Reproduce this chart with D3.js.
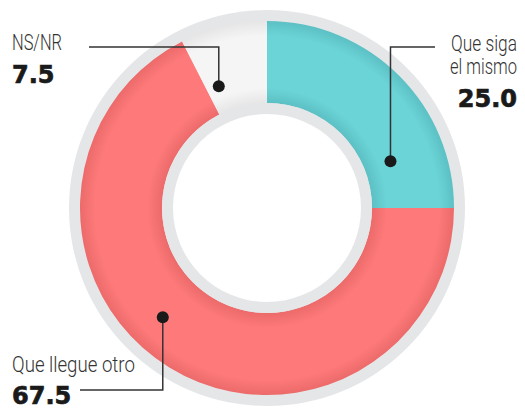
<!DOCTYPE html>
<html><head><meta charset="utf-8">
<script src="https://cdn.jsdelivr.net/npm/d3@7"></script>
<style>
html,body{margin:0;padding:0;background:#fff;}
svg{display:block;}
.lbl{font-family:"Roboto","Liberation Sans",sans-serif;font-weight:300;font-size:22px;fill:#333;}
.val{font-family:"DejaVu Sans",sans-serif;font-weight:bold;font-size:24px;fill:#1a1a1a;stroke:#1a1a1a;stroke-width:0.7px;}
</style></head>
<body>
<svg id="chart" width="525" height="408"></svg>
<script>
// Data
const categories = ["Que siga el mismo", "Que llegue otro", "NS/NR"];
const values = [25.0, 67.5, 7.5];
const labelLines = [["Que siga", "el mismo"], ["Que llegue otro"], ["NS/NR"]];
const valueLabels = ["25.0", "67.5", "7.5"];

// Styling / layout
const colors = ["#6bd4d7", "#fe7a7a", "#f5f5f5"];
const edgeColors = ["#5cc0c4", "#ec6a6a", "#e6e6e6"];
const W = 525, H = 408, cx = 267, cy = 208;
const rOuterGray = 198, rOuter = 187, rInner = 105, rInnerWhite = 94;

const svg = d3.select("#chart");
const defs = svg.append("defs");
colors.forEach((c, i) => {
  const g = defs.append("radialGradient").attr("id", "grad" + i)
    .attr("gradientUnits", "userSpaceOnUse").attr("cx", 0).attr("cy", 0).attr("r", rOuter);
  const s = rInner / rOuter;
  [[s, edgeColors[i]], [s + 0.08, c], [0.92, c], [1, edgeColors[i]]].forEach(([o, col]) =>
    g.append("stop").attr("offset", o).attr("stop-color", col));
});

const g = svg.append("g").attr("transform", `translate(${cx},${cy})`);
g.append("circle").attr("r", rOuterGray).attr("fill", "#e5e6e8");

const pie = d3.pie().sort(null).value(d => d)(values);
const arc = d3.arc().innerRadius(rInner).outerRadius(rOuter);
g.selectAll("path.slice").data(pie).join("path").attr("class", "slice")
  .attr("d", arc).attr("fill", (d, i) => `url(#grad${i})`);

g.append("circle").attr("r", rInner).attr("fill", "#e5e6e8");
g.append("circle").attr("r", rInnerWhite).attr("fill", "#fff");

// Annotation placement
const annot = [
  { frac: 0.77, r: 132, elbowY: 47, lineEndX: 435, textX: 517, anchor: "end", lineY: [51, 74], widths: [66, 67], valY: 107 },
  { frac: 0.55, r: 151, elbowY: 390, lineEndX: 80, textX: 12, anchor: "start", lineY: [372], widths: [123], valY: 404 },
  { frac: 0.2, r: 131, elbowY: 47, lineEndX: 89, textX: 12, anchor: "start", lineY: [50], widths: [50], valY: 83 }
];

pie.forEach((d, i) => {
  const a = annot[i];
  const ang = d.startAngle + (d.endAngle - d.startAngle) * a.frac;
  const px = cx + a.r * Math.sin(ang), py = cy - a.r * Math.cos(ang);
  svg.append("path")
    .attr("d", `M${a.lineEndX},${a.elbowY}H${px}V${py}`)
    .attr("fill", "none").attr("stroke", "#333").attr("stroke-width", 1.5);
  svg.append("circle").attr("cx", px).attr("cy", py).attr("r", 6).attr("fill", "#1a1a1a");
  labelLines[i].forEach((t, j) => {
    const txt = svg.append("text").attr("class", "lbl").attr("x", 0).attr("y", 0)
      .attr("text-anchor", a.anchor).text(t);
    const natural = txt.node().getComputedTextLength() || a.widths[j];
    const k = a.widths[j] / natural;
    txt.attr("transform", `translate(${a.textX},${a.lineY[j]}) scale(${k},1)`);
  });
  svg.append("text").attr("class", "val").attr("x", a.textX).attr("y", a.valY)
    .attr("text-anchor", a.anchor).text(valueLabels[i]);
});
</script>
</body></html>
